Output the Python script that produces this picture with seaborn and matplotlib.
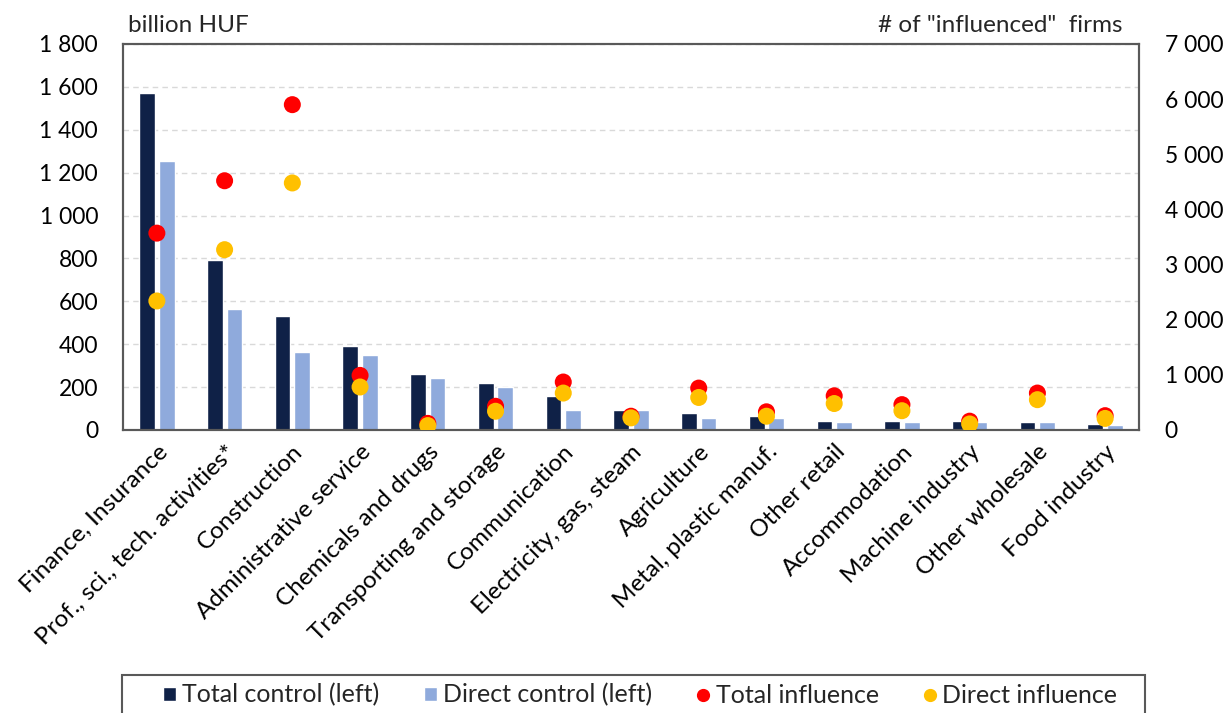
import matplotlib
matplotlib.use("Agg")
import matplotlib.pyplot as plt
import matplotlib.ticker as mticker
from matplotlib.lines import Line2D
from matplotlib.patches import Patch, Rectangle
import numpy as np
import pandas as pd
import seaborn as sns

# ── data ─────────────────────────────────────────────────────────────────────
categories = [
    "Finance, Insurance", "Prof., sci., tech. activities*", "Construction",
    "Administrative service", "Chemicals and drugs", "Transporting and storage",
    "Communication", "Electricity, gas, steam", "Agriculture",
    "Metal, plastic manuf.", "Other retail", "Accommodation",
    "Machine industry", "Other wholesale", "Food industry",
]
total_control = [1570, 795, 530, 390, 260, 218, 160, 95, 78, 65, 42, 42, 42, 38, 30]
direct_control = [1255, 563, 365, 348, 242, 202, 95, 95, 55, 55, 36, 36, 36, 38, 24]
total_influence = [3570, 4520, 5900, 990, 120, 430, 870, 250, 760, 330, 620, 460, 160, 670, 260]
direct_influence = [2340, 3270, 4480, 780, 80, 340, 670, 220, 590, 250, 480, 350, 110, 550, 210]

series_bars = ["Total control (left)", "Direct control (left)"]
series_dots = ["Total influence", "Direct influence"]

C_DARK = "#0F2147"
C_LIGHT = "#8FAADC"
C_RED = "#FF0000"
C_YEL = "#FFC000"
EDGE = "#595959"

bars = pd.DataFrame({
    "category": categories * 2,
    "series": [series_bars[0]] * len(categories) + [series_bars[1]] * len(categories),
    "value": total_control + direct_control,
})
pos = np.arange(len(categories))
dots = pd.DataFrame({
    "x": np.concatenate([pos, pos]),
    "series": [series_dots[0]] * len(categories) + [series_dots[1]] * len(categories),
    "value": total_influence + direct_influence,
})

sns.set_theme(style="white")
plt.rcParams["font.family"] = ["Lato", "DejaVu Sans"]
FS_NUM = 16.5   # numeric tick labels
FS_TXT = 17.5   # category labels, axis headers
FS_LEG = 18

W, H = 1229, 713
fig = plt.figure(figsize=(W / 100, H / 100), dpi=100)
ax = fig.add_axes([123 / W, 1 - 430 / H, (1139 - 123) / W, (430 - 44) / H])

sns.barplot(
    data=bars, x="category", y="value", hue="series",
    palette=[C_DARK, C_LIGHT], width=0.58, gap=0.2,
    order=categories, hue_order=series_bars, legend=False, ax=ax,
    saturation=1,
)
ax.set_xlim(-0.5, len(categories) - 0.5)
ax.set_ylim(0, 1800)
ax.yaxis.set_major_locator(mticker.MultipleLocator(200))
fmt = mticker.FuncFormatter(lambda v, _: f"{int(v):,}".replace(",", " "))
ax.yaxis.set_major_formatter(fmt)
ax.grid(axis="y", color="#D9D9D9", linestyle=(0, (4, 3)), linewidth=1)
ax.set_axisbelow(True)
ax.set_xlabel("")
ax.set_ylabel("")
# pads are in points (1 pt = 1.39 px at 100 dpi)
ax.tick_params(axis="y", length=0, pad=18, labelsize=FS_NUM, labelcolor="#000000")
ax.tick_params(axis="x", length=0, pad=8, labelsize=FS_TXT, labelcolor="#000000")
plt.setp(ax.get_xticklabels(), rotation=45, ha="right", rotation_mode="anchor")
for sp in ax.spines.values():
    sp.set_color(EDGE)
    sp.set_linewidth(1.5)

ax2 = ax.twinx()
sns.scatterplot(
    data=dots, x="x", y="value", hue="series",
    palette=[C_RED, C_YEL], hue_order=series_dots,
    s=150, linewidth=0, legend=False, ax=ax2, zorder=3,
)
ax2.set_ylim(0, 7000)
ax2.yaxis.set_major_locator(mticker.MultipleLocator(1000))
ax2.yaxis.set_major_formatter(fmt)
ax2.set_ylabel("")
ax2.tick_params(axis="y", length=0, pad=18.5, labelsize=FS_NUM, labelcolor="#000000")
for sp in ax2.spines.values():
    sp.set_color(EDGE)
    sp.set_linewidth(1.5)
ax2.set_xlim(-0.5, len(categories) - 0.5)

fig.text(128 / W, 1 - 26 / H, "billion HUF", fontsize=FS_TXT, va="center", ha="left")
fig.text(1123 / W, 1 - 26 / H, '# of "influenced"  firms', fontsize=FS_TXT,
         va="center", ha="right")

# legend: frameless entries + a box that runs off the bottom edge
handles = [
    Patch(facecolor=C_DARK, label=series_bars[0]),
    Patch(facecolor=C_LIGHT, label=series_bars[1]),
    Line2D([], [], marker="o", linestyle="", color=C_RED, markersize=8.5, label=series_dots[0]),
    Line2D([], [], marker="o", linestyle="", color=C_YEL, markersize=8.5, label=series_dots[1]),
]
fig.legend(
    handles=handles, ncol=4, loc="center left",
    bbox_to_anchor=(163 / W, 1 - 695 / H),
    fontsize=FS_LEG, frameon=False,
    handlelength=0.5, handleheight=0.5, handletextpad=0.25,
    columnspacing=1.8, borderpad=0, borderaxespad=0,
)
fig.patches.append(Rectangle(
    (122 / W, -0.05), (1145 - 122) / W, 0.05 + 1 - 675 / H,
    transform=fig.transFigure, fill=False, edgecolor=EDGE, linewidth=1.5,
))

fig.savefig("out.png", dpi=100)
